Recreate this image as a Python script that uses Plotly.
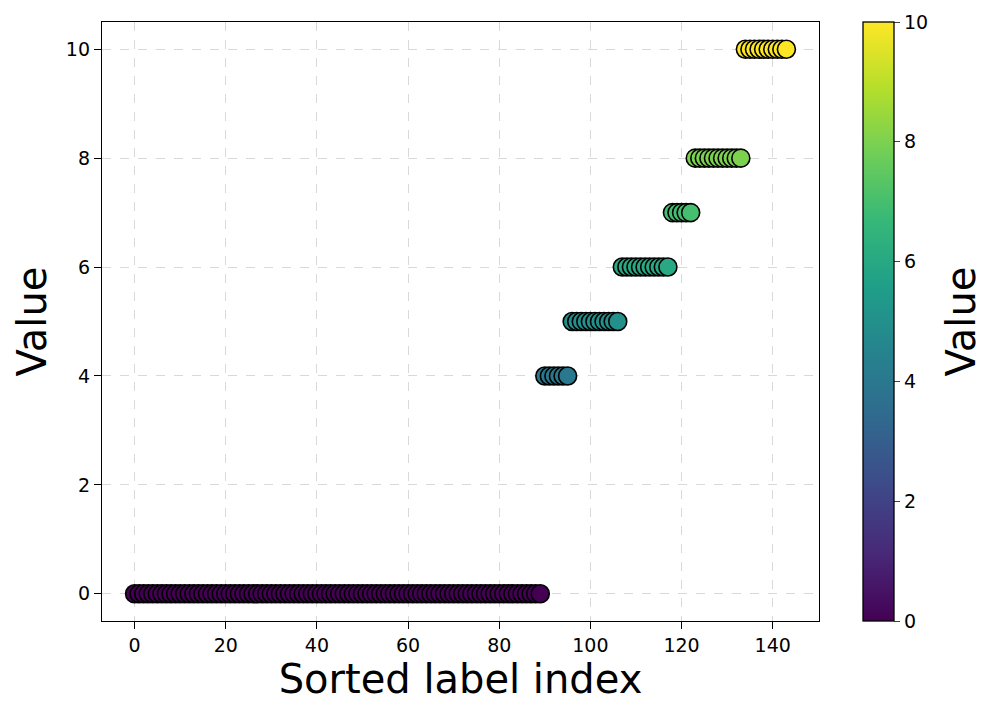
import plotly.graph_objects as go

# value groups (sorted)
group_values = [0, 4, 5, 6, 7, 8, 10]
group_counts = [90, 6, 11, 11, 5, 11, 10]

values = []
for v, c in zip(group_values, group_counts):
    values += [v] * c
indices = list(range(len(values)))

x_ticks = [0, 20, 40, 60, 80, 100, 120, 140]
y_ticks = [0, 2, 4, 6, 8, 10]
cbar_ticks = [0, 2, 4, 6, 8, 10]

# page body has an 8px margin in the browser
W, H = 980, 702
L, R, T, B = 94, 169, 14, 89
plot_w = W - L - R

fig = go.Figure()
fig.add_trace(go.Scatter(
    x=indices, y=values, mode="markers",
    marker=dict(
        size=18, color=values, colorscale="Viridis", cmin=0, cmax=10,
        line=dict(color="black", width=1.6),
        showscale=True,
        colorbar=dict(
            tickvals=cbar_ticks, ticks="outside", ticklen=6, tickwidth=1.3,
            tickfont=dict(size=19, color="black"),
            thickness=31, lenmode="pixels", len=599, ypad=0, xpad=0,
            x=855 / W, xref="container", xanchor="left",
            y=0.5, yanchor="middle",
            outlinecolor="black", outlinewidth=1.3,
        ),
    ),
    showlegend=False,
))

# colorbar label
fig.add_annotation(
    text="Value", textangle=-90, showarrow=False,
    xref="paper", yref="paper", x=(952 - L) / plot_w, y=0.5,
    xanchor="center", yanchor="middle",
    font=dict(size=40, color="black"),
)

axis_common = dict(
    showline=True, linecolor="black", linewidth=1.3, mirror=True,
    ticks="outside", ticklen=7, tickwidth=1.3, tickcolor="black",
    tickfont=dict(size=19, color="black"),
    showgrid=True, gridcolor="rgba(185,185,185,0.55)", griddash="dash", gridwidth=1,
    zeroline=False, layer="above traces",
)

fig.update_layout(
    width=W, height=H,
    margin=dict(l=L, r=R, t=T, b=B),
    plot_bgcolor="white", paper_bgcolor="white",
    font=dict(family="DejaVu Sans", color="black"),
    xaxis=dict(range=[-7.15, 150.15], tickvals=x_ticks,
               title=dict(text="Sorted label index", font=dict(size=40), standoff=8),
               **axis_common),
    yaxis=dict(range=[-0.5, 10.5], tickvals=y_ticks,
               title=dict(text="Value", font=dict(size=40), standoff=6),
               **axis_common),
)

fig.write_html("out.html")
